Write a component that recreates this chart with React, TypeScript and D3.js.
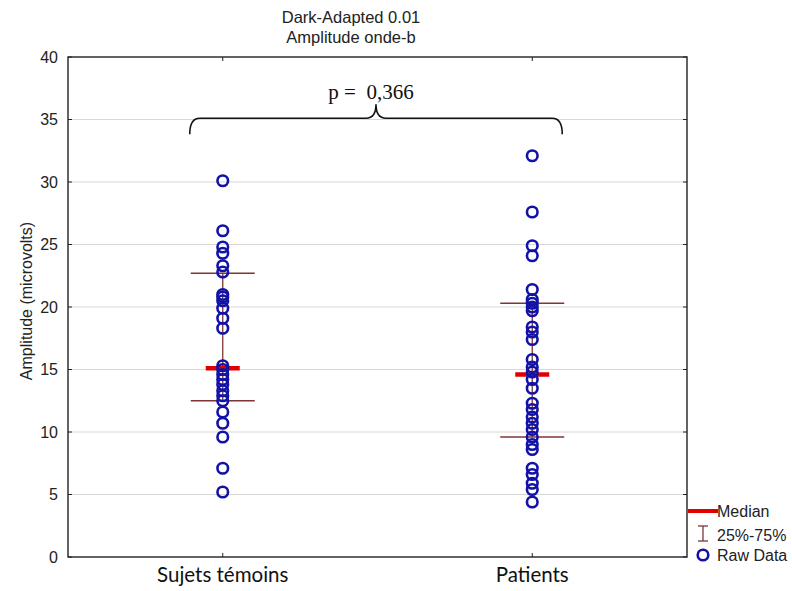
import React from "react";
import * as d3 from "d3";

const categories = ["Sujets témoins", "Patients"];
const controls = [30.1, 26.1, 24.8, 24.3, 23.3, 22.8, 21.0, 20.8, 20.5, 19.9, 19.1, 18.3, 15.3, 15.0, 14.6, 14.2, 13.8, 13.3, 12.9, 12.5, 11.6, 10.7, 9.6, 7.1, 5.2];
const patients = [32.1, 27.6, 24.9, 24.1, 21.4, 20.6, 20.3, 20.0, 19.7, 18.4, 18.0, 17.4, 15.8, 15.2, 14.8, 14.2, 13.5, 12.3, 11.8, 11.2, 10.7, 10.2, 9.6, 9.0, 8.6, 7.1, 6.6, 5.9, 5.4, 4.4];
const medians = [15.1, 14.6];
const q1s = [12.5, 9.6];
const q3s = [22.7, 20.3];
const yTicks = [0, 5, 10, 15, 20, 25, 30, 35, 40];
const titleLines = ["Dark-Adapted 0.01", "Amplitude onde-b"];
const yLabel = "Amplitude (microvolts)";
const pText = "p =  0,366";
const bracketLevel = 35.1;
const legendItems = ["Median", "25%-75%", "Raw Data"];

const W = 792, H = 591;
const left = 68, right = 687, top = 57, bottom = 557;
const BLUE = "#1212a8";
const RED = "#e00000";
const BROWN = "#7f3535";
const SANS = "'Liberation Sans', Arial, sans-serif";

export default function App() {
  const x = d3.scalePoint<string>().domain(categories).range([left, right]).padding(0.5);
  const y = d3.scaleLinear().domain([0, 40]).range([bottom, top]);
  const series = [controls, patients];

  const bx0 = (x(categories[0]) as number) - 33;
  const bx1 = (x(categories[1]) as number) + 30;
  const by = y(bracketLevel);
  const bmid = (bx0 + bx1) / 2;
  const bracket = `M${bx0},${by + 16} Q${bx0},${by} ${bx0 + 10},${by} L${bmid - 10},${by} Q${bmid},${by} ${bmid},${by - 14} Q${bmid},${by} ${bmid + 10},${by} L${bx1 - 10},${by} Q${bx1},${by} ${bx1},${by + 16}`;

  return (
    <svg width={W} height={H} style={{ position: "absolute", left: 0, top: 0, background: "#fff" }}>
      {yTicks.filter((t) => t > 0 && t < 40).map((t) => (
        <line key={"g" + t} x1={left} x2={right} y1={y(t)} y2={y(t)} stroke="#d8d8d8" strokeWidth={1.2} />
      ))}
      {titleLines.map((t, i) => (
        <text key={t} x={351} y={23 + i * 20} textAnchor="middle" fontFamily={SANS} fontSize={16.5} fill="#222">{t}</text>
      ))}
      {yTicks.map((t) => (
        <g key={"t" + t}>
          <text x={58} y={y(t)} dy="0.36em" textAnchor="end" fontFamily={SANS} fontSize={16} fill="#222">{t}</text>
          <line x1={left} x2={left + 4} y1={y(t)} y2={y(t)} stroke="#222" />
          <line x1={right - 4} x2={right} y1={y(t)} y2={y(t)} stroke="#222" />
        </g>
      ))}
      <text transform={`translate(32, 301) rotate(-90)`} textAnchor="middle" fontFamily={SANS} fontSize={16} fill="#222">{yLabel}</text>
      {categories.map((c) => (
        <g key={"c" + c}>
          <line x1={x(c)} x2={x(c)} y1={bottom} y2={bottom - 4} stroke="#222" />
          <line x1={x(c)} x2={x(c)} y1={top} y2={top + 4} stroke="#222" />
          <text x={x(c)} y={582} textAnchor="middle" fontFamily="Lato, 'Open Sans', sans-serif" fontSize={20.5} fill="#111">{c}</text>
        </g>
      ))}
      {categories.map((c, i) => {
        const cx = x(c) as number;
        return (
          <g key={"q" + c}>
            <line x1={cx} x2={cx} y1={y(q1s[i])} y2={y(q3s[i])} stroke={BROWN} strokeWidth={1.3} />
            <line x1={cx - 32} x2={cx + 32} y1={y(q1s[i])} y2={y(q1s[i])} stroke={BROWN} strokeWidth={1.5} />
            <line x1={cx - 32} x2={cx + 32} y1={y(q3s[i])} y2={y(q3s[i])} stroke={BROWN} strokeWidth={1.5} />
          </g>
        );
      })}
      {categories.map((c, i) => {
        const cx = x(c) as number;
        return <line key={"m" + c} x1={cx - 17} x2={cx + 17} y1={y(medians[i])} y2={y(medians[i])} stroke={RED} strokeWidth={4.5} />;
      })}
      {series.map((vals, i) =>
        vals.map((v, j) => (
          <circle key={`p${i}-${j}`} cx={x(categories[i])} cy={y(v)} r={5.3} fill="none" stroke={BLUE} strokeWidth={2.6} />
        ))
      )}
      <rect x={left} y={top} width={right - left} height={bottom - top} fill="none" stroke="#222" strokeWidth={1.4} />
      <path d={bracket} fill="none" stroke="#111" strokeWidth={1.6} />
      <text x={371} y={99} textAnchor="middle" fontFamily="'Liberation Serif', 'Times New Roman', serif" fontSize={21} fill="#111" style={{ whiteSpace: "pre" }}>{pText}</text>
      <line x1={688} x2={718} y1={511} y2={511} stroke={RED} strokeWidth={4} />
      <text x={717} y={517} fontFamily={SANS} fontSize={16} fill="#222">{legendItems[0]}</text>
      <line x1={703} x2={703} y1={526} y2={541} stroke={BROWN} strokeWidth={1.3} />
      <line x1={698} x2={708} y1={526} y2={526} stroke={BROWN} strokeWidth={1.3} />
      <line x1={698} x2={708} y1={541} y2={541} stroke={BROWN} strokeWidth={1.3} />
      <text x={717} y={541} fontFamily={SANS} fontSize={16} fill="#222">{legendItems[1]}</text>
      <circle cx={703} cy={555} r={5.3} fill="none" stroke={BLUE} strokeWidth={2.6} />
      <text x={717} y={561} fontFamily={SANS} fontSize={16} fill="#222">{legendItems[2]}</text>
    </svg>
  );
}
